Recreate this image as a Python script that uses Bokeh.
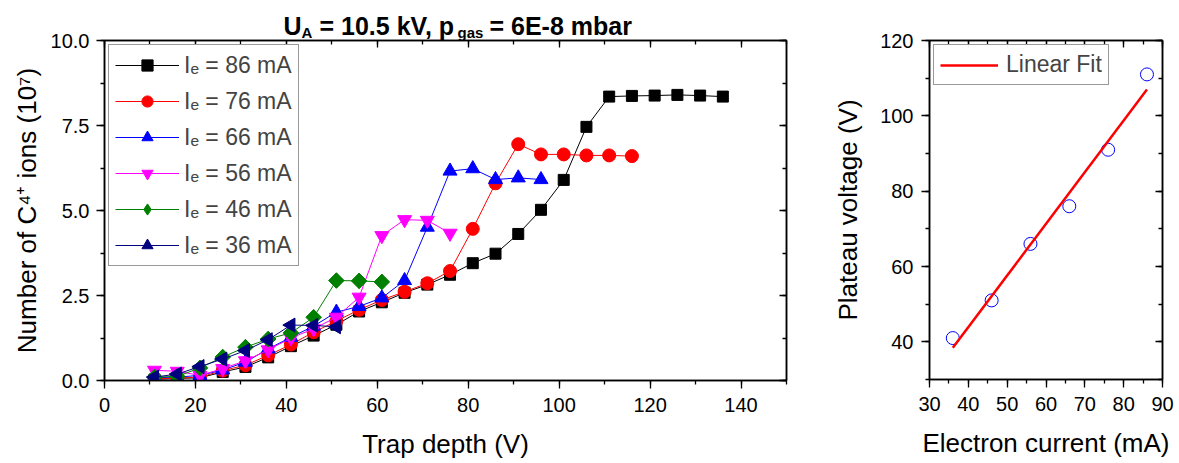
import math
from bokeh.plotting import figure
from bokeh.models import (Range1d, LinearAxis, SingleIntervalTicker, NumeralTickFormatter,
                          CustomJSTickFormatter, Legend, LegendItem, Label)
from bokeh.layouts import row, column
from bokeh.embed import file_html
from bokeh.resources import INLINE

FONT = "Liberation Sans"

# ---------------- data: left panel ----------------
trap_depth = [11, 16, 21, 26, 31, 36, 41, 46, 51, 56, 61, 66, 71, 76, 81, 86,
              91, 96, 101, 106, 111, 116, 121, 126, 131, 136]
ions_86 = [0.03, 0.06, 0.08, 0.25, 0.40, 0.68, 1.01, 1.32, 1.64, 2.03, 2.30, 2.58, 2.82,
           3.11, 3.45, 3.73, 4.31, 5.02, 5.90, 7.46, 8.35, 8.37, 8.38, 8.40, 8.38, 8.35]
ions_76 = [0.05, 0.07, 0.10, 0.29, 0.45, 0.74, 1.06, 1.42, 1.75, 2.08, 2.37, 2.61, 2.86,
           3.22, 4.46, 5.80, 6.95, 6.65, 6.65, 6.62, 6.62, 6.60]
ions_66 = [0.08, 0.10, 0.15, 0.31, 0.54, 0.93, 1.27, 1.60, 2.01, 2.18, 2.43, 2.94, 4.51,
           6.16, 6.23, 5.91, 5.96, 5.91]
ions_56 = [0.30, 0.27, 0.15, 0.35, 0.58, 0.90, 1.25, 1.52, 1.86, 2.45, 4.26, 4.73, 4.71, 4.33]
ions_46 = [0.10, 0.12, 0.37, 0.69, 0.98, 1.22, 1.40, 1.86, 2.94, 2.93, 2.90]
ions_36 = [0.10, 0.19, 0.41, 0.63, 0.88, 1.20, 1.63, 1.62, 1.58]
series_labels = ["Iₑ = 86 mA", "Iₑ = 76 mA", "Iₑ = 66 mA",
                 "Iₑ = 56 mA", "Iₑ = 46 mA", "Iₑ = 36 mA"]

# ---------------- data: right panel ----------------
current = [36, 46, 56, 66, 76, 86]
plateau = [41, 51, 66, 76, 91, 111]
fit_x = [36, 86]
fit_y = [38.4, 107.0]

# ---------------- styles ----------------
styles = [
    dict(color="#000000", marker="square", size=11, angle=0.0, leg=None),
    dict(color="#FF0000", marker="circle", size=13, angle=0.0, leg=None),
    dict(color="#0000FF", marker="triangle", size=14, angle=0.0, leg=None),
    dict(color="#FF00FF", marker="inverted_triangle", size=14, angle=0.0, leg=None),
    dict(color="#008000", marker="square", size=11, angle=math.pi / 4, leg="diamond"),
    dict(color="#000080", marker="triangle", size=14, angle=math.pi / 2, leg=None),
]


def style_axis(ax, label_size="20px"):
    ax.axis_line_color = "black"
    ax.axis_line_width = 1.5
    ax.major_tick_line_color = "black"
    ax.minor_tick_line_color = "black"
    ax.major_tick_line_width = 1.3
    ax.minor_tick_line_width = 1.3
    ax.major_tick_out = 8
    ax.major_tick_in = 0
    ax.minor_tick_out = 4
    ax.minor_tick_in = 0
    ax.major_label_text_font = FONT
    ax.major_label_text_font_size = label_size
    ax.major_label_text_color = "black"
    ax.axis_label_text_font = FONT
    ax.axis_label_text_font_size = "26px"
    ax.axis_label_text_font_style = "normal"
    ax.axis_label_text_color = "black"


def mirror_axis(p, ticker, side):
    ax = LinearAxis(ticker=ticker, formatter=CustomJSTickFormatter(code="return ''"))
    ax.axis_line_color = "black"
    ax.axis_line_width = 1.5
    ax.major_tick_line_color = "black"
    ax.minor_tick_line_color = "black"
    ax.major_tick_line_width = 1.3
    ax.minor_tick_line_width = 1.3
    ax.major_tick_in = 7
    ax.major_tick_out = 0
    ax.minor_tick_in = 4
    ax.minor_tick_out = 0
    ax.major_label_text_color = None
    ax.major_label_text_font_size = "1px"
    ax.major_label_standoff = 0
    ax.axis_label_standoff = 0
    p.add_layout(ax, side)


# ---------------- title strip (overlaps the left plot's top border) ----------------
TH = 40
tfig = figure(width=830, height=TH, output_backend="svg", toolbar_location=None,
              title_location=None, margin=(0, 0, -TH, 0),
              x_range=Range1d(0, 1), y_range=Range1d(0, 1),
              x_axis_type=None, y_axis_type=None,
              min_border_left=104, min_border_right=44, min_border_top=0, min_border_bottom=0)
tfig.outline_line_color = None
tfig.xgrid.visible = False
tfig.ygrid.visible = False
tfig.background_fill_color = None
tfig.border_fill_color = None
FRAME_LEFT = 104
title_parts = [
    ("U", 283, 25, "25px"),
    ("A", 301, 32, "15px"),
    ("= 10.5 kV, p", 319, 25, "25px"),
    ("gas", 457, 32, "15px"),
    ("= 6E-8 mbar", 489, 25, "25px"),
]
for txt, X, Y, fs in title_parts:
    tfig.add_layout(Label(x=X - FRAME_LEFT, y=TH - Y, x_units="screen", y_units="screen",
                          text=txt, text_font=FONT, text_font_size=fs,
                          text_font_style="bold", text_color="black",
                          text_align="left", text_baseline="alphabetic"))

# ---------------- left figure ----------------
p1 = figure(width=830, height=463, output_backend="svg", toolbar_location=None,
            title_location=None,
            x_range=Range1d(0, 150), y_range=Range1d(0, 10),
            min_border_left=104, min_border_right=44, min_border_top=40, min_border_bottom=83)
p1.xgrid.visible = False
p1.ygrid.visible = False
p1.outline_line_color = "black"
p1.outline_line_width = 1.5
p1.background_fill_color = "white"
p1.border_fill_color = None

xt1 = SingleIntervalTicker(interval=20, num_minor_ticks=2)
yt1 = SingleIntervalTicker(interval=2.5, num_minor_ticks=2)
p1.xaxis.ticker = xt1
p1.yaxis.ticker = yt1
p1.yaxis.formatter = NumeralTickFormatter(format="0.0")
for ax in p1.xaxis + p1.yaxis:
    style_axis(ax)
p1.xaxis.axis_label = "Trap depth (V)"
p1.yaxis.axis_label = "Number of C⁴⁺ ions (10⁷)"
p1.xaxis.major_label_standoff = 9
p1.yaxis.major_label_standoff = 7
p1.xaxis.axis_label_standoff = 14
p1.yaxis.axis_label_standoff = 6
mirror_axis(p1, xt1, "above")
mirror_axis(p1, yt1, "right")

all_series = [ions_86, ions_76, ions_66, ions_56, ions_46, ions_36]
items = []
for vals, st, lab in zip(all_series, styles, series_labels):
    xs = trap_depth[:len(vals)]
    lr = p1.line(xs, vals, line_color=st["color"], line_width=1)
    leg_r = None
    if st["leg"] is not None:
        # legend glyph, drawn beneath the rotated squares (hidden by them)
        leg_r = p1.scatter(xs, vals, marker=st["leg"], size=15, fill_color=st["color"],
                           line_color=st["color"], line_width=1)
    sr = p1.scatter(xs, vals, marker=st["marker"], size=st["size"], angle=st["angle"],
                    fill_color=st["color"], line_color=st["color"], line_width=1)
    items.append(LegendItem(label=lab, renderers=[lr, leg_r if leg_r is not None else sr]))

leg1 = Legend(items=items, location="top_left", margin=4, padding=6, spacing=8,
              glyph_width=64, glyph_height=28, label_standoff=5, label_height=28,
              label_text_font=FONT, label_text_font_size="23px",
              border_line_color="#333333", border_line_width=1,
              background_fill_alpha=1.0)
p1.add_layout(leg1, "center")

# ---------------- right figure ----------------
p2 = figure(width=349, height=463, output_backend="svg", toolbar_location=None,
            title_location=None,
            x_range=Range1d(30, 90), y_range=Range1d(30, 120),
            min_border_left=92, min_border_right=17, min_border_top=40, min_border_bottom=84)
p2.xgrid.visible = False
p2.ygrid.visible = False
p2.outline_line_color = "black"
p2.outline_line_width = 1.5
p2.background_fill_color = "white"
p2.border_fill_color = "white"
xt2 = SingleIntervalTicker(interval=10, num_minor_ticks=2)
yt2 = SingleIntervalTicker(interval=20, num_minor_ticks=2)
p2.xaxis.ticker = xt2
p2.yaxis.ticker = yt2
for ax in p2.xaxis + p2.yaxis:
    style_axis(ax)
p2.xaxis.axis_label = "Electron current (mA)"
p2.yaxis.axis_label = "Plateau voltage (V)"
p2.xaxis.major_label_standoff = 9
p2.yaxis.major_label_standoff = 8
p2.xaxis.axis_label_standoff = 14
p2.yaxis.axis_label_standoff = 14
mirror_axis(p2, xt2, "above")
mirror_axis(p2, yt2, "right")

p2.scatter(current, plateau, marker="circle", size=13, fill_color=None,
           line_color="#0000FF", line_width=1)
fr = p2.line(fit_x, fit_y, line_color="#FF0000", line_width=2.5)
leg2 = Legend(items=[LegendItem(label="Linear Fit", renderers=[fr])], location="top_left",
              margin=4, padding=6, glyph_width=58, glyph_height=22, label_height=22,
              label_standoff=8, label_text_font=FONT, label_text_font_size="23px",
              border_line_color="#333333", border_line_width=1)
p2.add_layout(leg2, "center")

layout = row(column(tfig, p1), p2)
open("out.html", "w").write(file_html(layout, INLINE))
